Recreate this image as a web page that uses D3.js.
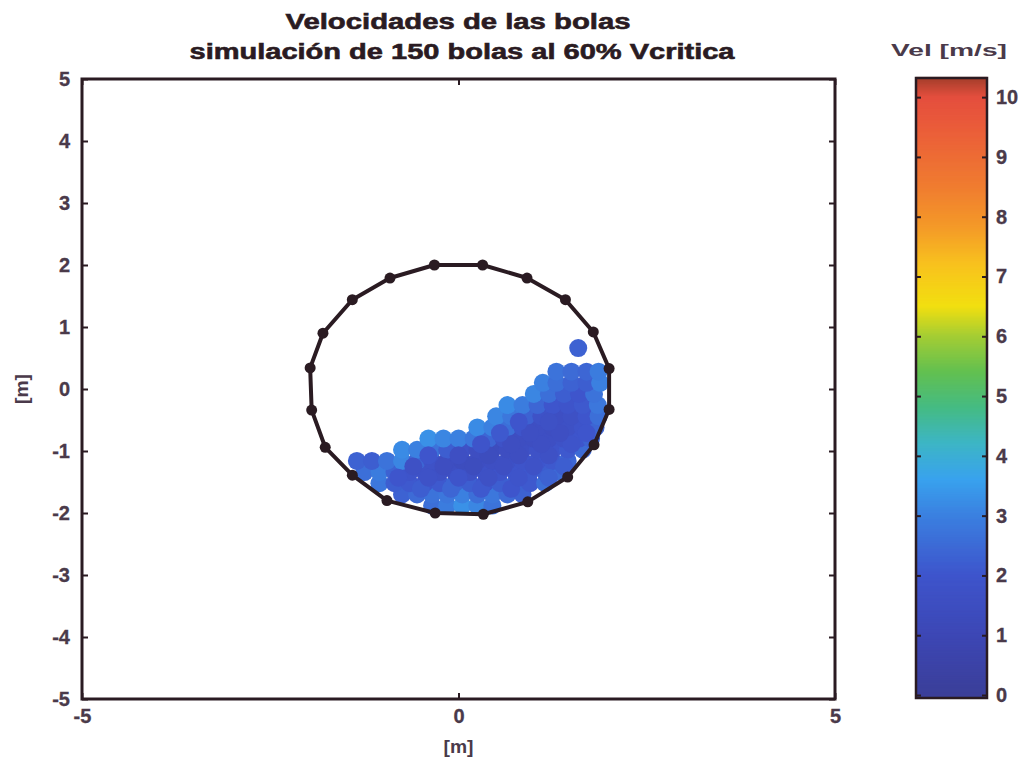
<!DOCTYPE html>
<html><head><meta charset="utf-8">
<script src="https://cdn.jsdelivr.net/npm/d3@7"></script>
<style>
html,body{margin:0;padding:0;background:#fff;}
text{font-family:"Liberation Sans",Arial,Helvetica,sans-serif;font-weight:bold;}
</style></head>
<body><svg id="chart" width="1027" height="762"></svg>
<script>
// ---- data ----
const titleLines = ["Velocidades de las bolas", "simulación de 150 bolas al 60% Vcritica"];
const xTicks = [-5, 0, 5];
const yTicks = [-5, -4, -3, -2, -1, 0, 1, 2, 3, 4, 5];
const cTicks = [0, 1, 2, 3, 4, 5, 6, 7, 8, 9, 10];
const axisLabel = "[m]";
const colorbarTitle = "Vel [m/s]";

// lifters / mill shell vertices [m]
const shellX = [-0.32, 0.32, 0.91, 1.42, 1.79, 2.00, 2.00, 1.80, 1.45, 0.92, 0.33, -0.31, -0.95, -1.41, -1.77, -1.95, -1.97, -1.80, -1.41, -0.91];
const shellY = [2.00, 2.00, 1.79, 1.44, 0.92, 0.33, -0.33, -0.90, -1.42, -1.82, -2.02, -2.00, -1.80, -1.39, -0.94, -0.34, 0.34, 0.90, 1.44, 1.79];

// balls: x [m], y [m], velocity [m/s]
const ballX = [
 -0.35,-0.15,0.05,0.25,0.45,
 -0.75,-0.55,-0.35,-0.15,0.05,0.25,0.45,0.65,0.85,
 -1.05,-0.85,-0.65,-0.45,-0.25,-0.05,0.15,0.35,0.55,0.75,0.95,1.15,
 -1.25,-1.05,-0.85,-0.65,-0.45,-0.25,-0.05,0.15,0.35,0.55,0.75,0.95,1.15,1.35,
 -1.35,-1.15,-0.95,-0.75,-0.55,-0.35,-0.15,0.05,0.25,0.45,0.65,0.85,1.05,1.25,1.45,
 -0.75,-0.55,-0.35,-0.15,0.05,0.25,0.45,0.65,0.85,1.05,1.25,1.45,1.65,
 -0.4,-0.2,0.0,0.2,0.4,0.6,0.8,1.0,1.2,1.4,1.6,1.76,
 0.25,0.45,0.65,0.85,1.05,1.25,1.45,1.65,1.82,
 0.5,0.7,0.9,1.1,1.3,1.5,1.7,1.86,
 0.65,0.85,1.05,1.25,1.45,1.65,1.85,
 1.0,1.2,1.4,1.6,1.8,
 1.12,1.3,1.5,1.7,1.88,
 1.3,1.5,1.7,1.86,
 1.59,
 -0.5,-0.1,0.3,0.7,
 -0.8,-0.4,0.0,0.4,0.8,1.2,
 -0.6,-0.2,0.2,0.6,1.0,1.4,
 -0.4,0.0,0.4,0.8,1.2,
 0.3,0.7,1.1,1.5,
 0.55,0.95,1.35,1.7,
 0.8,1.2
];
const ballY = [
 -1.88,-1.88,-1.88,-1.88,-1.88,
 -1.70,-1.70,-1.70,-1.70,-1.70,-1.70,-1.70,-1.70,-1.70,
 -1.52,-1.52,-1.52,-1.52,-1.52,-1.52,-1.52,-1.52,-1.52,-1.52,-1.52,-1.52,
 -1.34,-1.34,-1.34,-1.34,-1.34,-1.34,-1.34,-1.34,-1.34,-1.34,-1.34,-1.34,-1.34,-1.34,
 -1.16,-1.16,-1.16,-1.16,-1.16,-1.16,-1.16,-1.16,-1.16,-1.16,-1.16,-1.16,-1.16,-1.16,-1.16,
 -0.98,-0.98,-0.98,-0.98,-0.98,-0.98,-0.98,-0.98,-0.98,-0.98,-0.98,-0.98,-0.98,
 -0.80,-0.80,-0.80,-0.80,-0.80,-0.80,-0.80,-0.80,-0.80,-0.80,-0.80,-0.80,
 -0.62,-0.62,-0.62,-0.62,-0.62,-0.62,-0.62,-0.62,-0.62,
 -0.44,-0.44,-0.44,-0.44,-0.44,-0.44,-0.44,-0.44,
 -0.26,-0.26,-0.26,-0.26,-0.26,-0.26,-0.26,
 -0.08,-0.08,-0.08,-0.08,-0.08,
 0.10,0.10,0.10,0.10,0.10,
 0.28,0.28,0.28,0.28,
 0.66,
 -1.61,-1.61,-1.61,-1.61,
 -1.43,-1.43,-1.43,-1.43,-1.43,-1.43,
 -1.25,-1.25,-1.25,-1.25,-1.25,-1.25,
 -1.07,-1.07,-1.07,-1.07,-1.07,
 -0.89,-0.89,-0.89,-0.89,
 -0.71,-0.71,-0.71,-0.71,
 -0.53,-0.53
];
const ballV = [
 2.6,2.9,3.3,3.1,2.7,
 2.3,2.5,2.7,2.8,3.0,2.6,2.8,2.5,2.3,
 2.8,2.2,2.1,2.0,2.1,2.4,2.2,2.0,2.2,2.3,2.1,2.6,
 2.6,2.9,2.3,1.9,1.8,1.7,1.6,1.7,1.8,1.9,2.0,2.1,2.2,2.5,
 2.3,2.2,2.7,3.1,2.4,1.8,1.5,1.4,1.5,1.6,1.7,1.9,2.0,2.1,2.4,
 3.2,3.0,2.7,2.2,1.8,1.5,1.4,1.5,1.6,1.8,1.9,2.1,2.5,
 3.3,3.1,3.0,2.8,2.4,1.8,1.5,1.5,1.6,1.8,2.0,2.3,
 3.2,3.0,2.6,1.9,1.6,1.5,1.7,1.9,2.4,
 3.1,2.8,2.3,1.8,1.6,1.7,2.0,2.6,
 3.2,2.9,2.4,2.0,1.9,2.1,2.8,
 3.1,2.6,2.2,2.0,2.7,
 3.0,2.6,2.3,2.2,3.0,
 2.7,2.5,2.4,2.9,
 2.3,
 2.2,2.4,2.1,2.0,
 2.0,1.8,1.9,1.7,1.9,2.3,
 1.7,1.5,1.4,1.6,1.8,2.2,
 2.0,1.6,1.4,1.5,1.7,
 1.9,1.5,1.6,1.9,
 2.1,1.6,1.6,2.0,
 2.0,1.7
];

// colormap stops
const cmapStops = [0, 1, 2, 3, 3.6, 4.2, 4.8, 5.4, 6.0, 6.5, 7.2, 7.8, 8.5, 9.5, 10.0, 10.3];
const cmapColors = ["#3b3f99","#3d47b5","#3e55cc","#3b80e0","#39a2ee","#3db5c6","#45bb84","#62c050","#a4cd34","#f2df10","#f8c21e","#f49b28","#f07c30","#ea5c3a","#e44e3e","#a8402c"];

// ---- drawing ----
const svg = d3.select("#chart");
const ink = "#2a1b22", txt = "#4a3a4a";

const x = d3.scaleLinear().domain([-5, 5]).range([82, 835]);
const y = d3.scaleLinear().domain([-5, 5]).range([699, 79]);
const cmap = d3.scaleLinear().domain(cmapStops).range(cmapColors).interpolate(d3.interpolateRgb).clamp(true);
const cy = d3.scaleLinear().domain([-0.05, 10.32]).range([698, 78]);
const fmt = d => String(d);

// title
svg.append("text").attr("x", 458).attr("y", 29).attr("text-anchor", "middle")
  .attr("font-size", 22).attr("fill", ink).attr("stroke", ink).attr("stroke-width", 0.6)
  .attr("textLength", 345).attr("lengthAdjust", "spacingAndGlyphs")
  .text(titleLines[0]);
svg.append("text").attr("x", 462).attr("y", 59).attr("text-anchor", "middle")
  .attr("font-size", 22).attr("fill", ink).attr("stroke", ink).attr("stroke-width", 0.6)
  .attr("textLength", 545).attr("lengthAdjust", "spacingAndGlyphs")
  .text(titleLines[1]);

// plot background
svg.append("rect").attr("x", x(-5)).attr("y", y(5)).attr("width", x(5) - x(-5)).attr("height", y(-5) - y(5)).attr("fill", "#fff");

// balls
const balls = d3.range(ballX.length).map(i => ({x: ballX[i], y: ballY[i], v: ballV[i]}));
svg.append("g").selectAll("circle").data(balls).join("circle")
  .attr("cx", d => x(d.x)).attr("cy", d => y(d.y)).attr("r", 9)
  .attr("fill", d => cmap(d.v));

// shell polygon + lifters
const shell = d3.range(shellX.length).map(i => [shellX[i], shellY[i]]);
svg.append("path").datum(shell)
  .attr("d", d3.line().x(d => x(d[0])).y(d => y(d[1])).curve(d3.curveLinearClosed))
  .attr("fill", "none").attr("stroke", ink).attr("stroke-width", 4).attr("stroke-linejoin", "round");
svg.append("g").selectAll("circle").data(shell).join("circle")
  .attr("cx", d => x(d[0])).attr("cy", d => y(d[1])).attr("r", 5.5).attr("fill", ink);

// axes
function styleAxis(g) {
  g.select(".domain").remove();
  g.selectAll(".tick line").attr("stroke", ink).attr("stroke-width", 2);
  g.selectAll(".tick text").attr("fill", txt).attr("font-size", 20)
    .attr("stroke", txt).attr("stroke-width", 0.3)
    .attr("font-family", "Liberation Sans, Arial, sans-serif").attr("font-weight", "bold");
}
svg.append("g").attr("transform", `translate(0,${y(-5)})`)
  .call(d3.axisBottom(x).tickValues(xTicks).tickSize(-6).tickPadding(10).tickFormat(fmt))
  .call(styleAxis);
svg.append("g").attr("transform", `translate(0,${y(5)})`)
  .call(d3.axisTop(x).tickValues(xTicks).tickSize(-6).tickFormat(""))
  .call(styleAxis);
svg.append("g").attr("transform", `translate(${x(-5)},0)`)
  .call(d3.axisLeft(y).tickValues(yTicks).tickSize(-6).tickPadding(12).tickFormat(fmt))
  .call(styleAxis);
svg.append("g").attr("transform", `translate(${x(5)},0)`)
  .call(d3.axisRight(y).tickValues(yTicks).tickSize(-6).tickFormat(""))
  .call(styleAxis);

// frame
svg.append("rect").attr("x", x(-5)).attr("y", y(5)).attr("width", x(5) - x(-5)).attr("height", y(-5) - y(5))
  .attr("fill", "none").attr("stroke", ink).attr("stroke-width", 3);

// axis labels
svg.append("text").attr("x", x(0)).attr("y", 753).attr("text-anchor", "middle")
  .attr("font-size", 19).attr("fill", txt).attr("textLength", 30).attr("lengthAdjust", "spacingAndGlyphs").text(axisLabel);
svg.append("text").attr("transform", `translate(28,${y(0)}) rotate(-90)`).attr("text-anchor", "middle")
  .attr("font-size", 19).attr("fill", txt).attr("textLength", 30).attr("lengthAdjust", "spacingAndGlyphs").text(axisLabel);

// colour bar
const cbX = 916, cbW = 71;
const steps = d3.range(-0.05, 10.32, 0.02);
svg.append("g").selectAll("rect").data(steps).join("rect")
  .attr("x", cbX).attr("width", cbW)
  .attr("y", d => cy(d + 0.02) - 0.5).attr("height", d => cy(d) - cy(d + 0.02) + 1)
  .attr("fill", d => cmap(d));
svg.append("g").attr("transform", `translate(${cbX + cbW},0)`)
  .call(d3.axisRight(cy).tickValues(cTicks).tickSize(-5).tickPadding(9).tickFormat(fmt))
  .call(styleAxis);
svg.append("g").attr("transform", `translate(${cbX},0)`)
  .call(d3.axisLeft(cy).tickValues(cTicks).tickSize(-5).tickFormat(""))
  .call(styleAxis);
svg.append("rect").attr("x", cbX).attr("y", cy(10.32)).attr("width", cbW).attr("height", cy(-0.05) - cy(10.32))
  .attr("fill", "none").attr("stroke", ink).attr("stroke-width", 2.5);
svg.append("text").attr("x", 949).attr("y", 56).attr("text-anchor", "middle")
  .attr("font-size", 17).attr("fill", txt).attr("textLength", 116).attr("lengthAdjust", "spacingAndGlyphs")
  .text(colorbarTitle);
</script></body></html>
